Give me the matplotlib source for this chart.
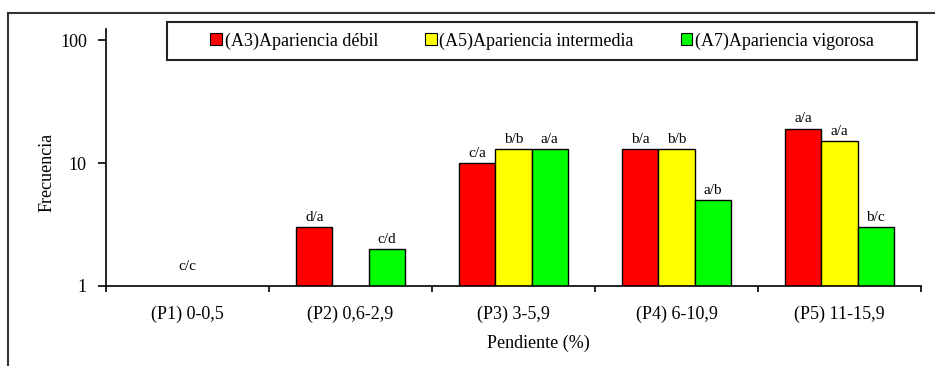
import numpy as np
import matplotlib
matplotlib.use("Agg")
import matplotlib.pyplot as plt
from matplotlib.lines import Line2D
from matplotlib.patches import Rectangle, Patch
from matplotlib.ticker import FixedLocator, NullLocator, FixedFormatter

# Datos: frecuencia por clase de pendiente y apariencia
categorias = ["(P1) 0-0,5", "(P2) 0,6-2,9", "(P3) 3-5,9", "(P4) 6-10,9", "(P5) 11-15,9"]
series = ["(A3)Apariencia débil", "(A5)Apariencia intermedia", "(A7)Apariencia vigorosa"]
a3_debil = [0, 3, 10, 13, 19]
a5_intermedia = [0, 0, 13, 13, 15]
a7_vigorosa = [0, 2, 13, 5, 3]
etiq_a3 = ["", "d/a", "c/a", "b/a", "a/a"]
etiq_a5 = ["c/c", "", "b/b", "b/b", "a/a"]
etiq_a7 = ["", "c/d", "a/a", "a/b", "b/c"]
colores = ["#ff0000", "#ffff00", "#00ff00"]

plt.rcParams["font.family"] = ["Liberation Serif", "DejaVu Serif"]
plt.rcParams["font.size"] = 13

fig = plt.figure(figsize=(9.35, 3.66), dpi=100)
ax = fig.add_axes([0.1134, 0.2186, 0.8717, 0.7022])

x = np.arange(len(categorias))
ancho = 0.222
valores = [a3_debil, a5_intermedia, a7_vigorosa]
etiquetas = [etiq_a3, etiq_a5, etiq_a7]

ax.set_yscale("log")
for i, (vals, labs) in enumerate(zip(valores, etiquetas)):
    v = np.array(vals, dtype=float)
    pos = x + (i - 1) * ancho
    alto = np.where(v > 0, v, np.nan)
    ax.bar(pos, alto, ancho, color=colores[i], edgecolor="black", linewidth=1.0, zorder=2)
    for xp, val, lab in zip(pos, v, labs):
        if not lab:
            continue
        off = 2.5 if val > 0 else 9
        ax.annotate(lab, (xp, max(val, 1)), xytext=(0, off), textcoords="offset points",
                    ha="center", va="bottom", fontsize=11)

ax.set_xlim(-0.5, len(categorias) - 0.5)
ax.set_ylim(1, 123)

# eje Y: solo 1, 10, 100
ax.yaxis.set_major_locator(FixedLocator([1, 10, 100]))
ax.yaxis.set_major_formatter(FixedFormatter(["1", "10", "100"]))
ax.yaxis.set_minor_locator(NullLocator())
ax.tick_params(axis="y", direction="out", length=5.8, width=1.2, pad=8)

# eje X: marcas en los límites, etiquetas centradas
ax.xaxis.set_major_locator(FixedLocator(np.arange(len(categorias) + 1) - 0.5))
ax.xaxis.set_major_formatter(FixedFormatter([""] * (len(categorias) + 1)))
ax.xaxis.set_minor_locator(FixedLocator(x))
ax.xaxis.set_minor_formatter(FixedFormatter(categorias))
ax.tick_params(axis="x", which="major", direction="out", length=4.3, width=1.2)
ax.tick_params(axis="x", which="minor", length=0, pad=14)

for s in ["top", "right"]:
    ax.spines[s].set_visible(False)
for s in ["left", "bottom"]:
    ax.spines[s].set_linewidth(1.2)

ax.set_ylabel("Frecuencia", va="center", ha="center")
ax.yaxis.set_label_coords(-0.0724, 0.4436)
ax.set_xlabel("Pendiente (%)", va="center", ha="center")
ax.xaxis.set_label_coords((538 - 106) / 815, (286 - 343) / 257)

# leyenda dentro de un recuadro
fig.patches.append(Rectangle((167 / 935, 1 - 60 / 366), 750 / 935, 38 / 366,
                             transform=fig.transFigure, fill=False,
                             edgecolor="#222222", linewidth=1.5))
handles = [Patch(facecolor=c, edgecolor="black", linewidth=0.8) for c in colores]
fig.legend(handles, series, loc="center", bbox_to_anchor=(542 / 935, 1 - 41 / 366),
           bbox_transform=fig.transFigure, ncol=3, frameon=False,
           handlelength=0.65, handleheight=0.65, handletextpad=0.15,
           columnspacing=2.6, fontsize=13)

# marco exterior
fig.lines.append(Line2D([7.5 / 935, 1.0], [1 - 12.5 / 366] * 2, transform=fig.transFigure,
                        color="#333333", linewidth=1.5))
fig.lines.append(Line2D([7.5 / 935] * 2, [0, 1 - 12.5 / 366], transform=fig.transFigure,
                        color="#333333", linewidth=1.5))

fig.savefig("out.png", dpi=100)
